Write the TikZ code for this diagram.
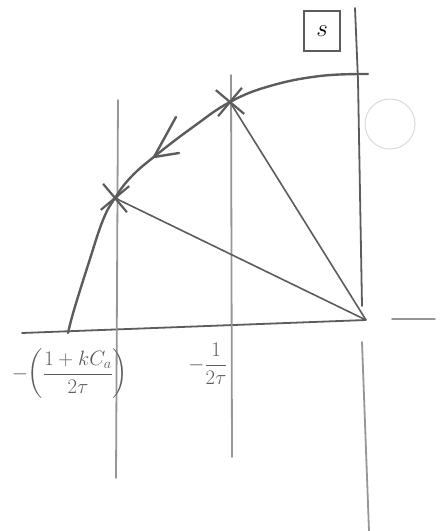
\documentclass[tikz,border=0pt]{standalone}
\usepackage{amsmath}
\usetikzlibrary{arrows.meta, shapes.misc}
\definecolor{pencil}{RGB}{92,92,92}
\definecolor{pencillight}{RGB}{150,150,150}

\begin{document}
\begin{tikzpicture}[x=1pt, y=-1pt, >=Latex, font=\huge,
    locus/.style={pencil, line width=2.4pt, line cap=round, line join=round},
    guide/.style={pencillight, line width=1.8pt, line cap=round},
    axisline/.style={pencil, line width=1.8pt, line cap=round},
    ray/.style={pencil, line width=1.6pt},
    pole/.style={cross out, draw=pencil, line width=2.2pt, minimum size=24pt, inner sep=0pt},
    planebox/.style={draw=pencil, line width=1.6pt, minimum width=36pt, minimum height=40pt, inner sep=0pt,
        font=\fontsize{34}{34}\selectfont},
    tlab/.style={text=pencil, inner sep=1pt},
]

    \useasboundingbox (0,0) rectangle (447,531);

    % axes
    \coordinate (O)     at (366,320);
    \coordinate (reL)   at (22,333);
    \coordinate (dashL) at (392,319);
    \coordinate (dashR) at (435,319);
    \coordinate (imT)   at (355,8);
    \coordinate (imM)   at (362,306);
    \coordinate (imN)   at (362,342);
    \coordinate (imB)   at (369,531);

    \draw[axisline] (reL) -- (O);
    \draw[axisline, pencillight] (dashL) -- (dashR);
    \draw[axisline] (imT) -- (358,80) -- (imM);
    \draw[axisline, pencillight] (imN) -- (imB);

    % guides at the two abscissae
    \coordinate (gLT) at (118,100);
    \coordinate (gLB) at (116,478);
    \coordinate (gMT) at (231,75);
    \coordinate (gMB) at (232,457);
    \draw[guide] (gLT) -- (gLB);
    \draw[guide] (gMT) -- (gMB);

    % poles on the locus
    \node[pole, rotate=5]  (p1) at (230,102) {};
    \node[pole, rotate=-5] (p2) at (115,198) {};

    \draw[ray] (O) -- (p1.center);
    \draw[ray] (O) -- (p2.center);

    % the locus
    \draw[locus] plot[smooth, tension=0.7] coordinates
        {(368,74) (320,76) (270,86) (230,102) (193,127) (155,156) (131,177) (115,198) (103,220) (89,262) (74,310) (68,333)};
    \coordinate (tip) at (154,157);
    \draw[locus] (176,117) -- (tip) -- (179,153);

    \draw[pencillight!35, line width=1pt] (390,124) circle (25pt);

    % labels
    \node[planebox] (sbox) at (322,31) {$s$};
    \node[tlab] (kl) at (70,374) {$-\!\left(\dfrac{1+kC_a}{2\tau}\right)$};
    \node[tlab] (tl) at (208,364) {$-\dfrac{1}{2\tau}$};

\end{tikzpicture}
\end{document}
